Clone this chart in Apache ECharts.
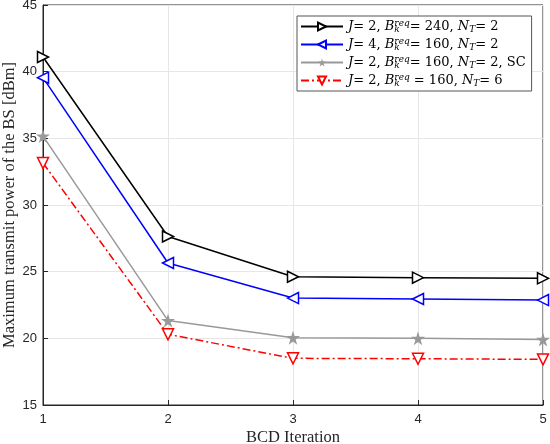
<!DOCTYPE html>
<html>
<head>
<meta charset="utf-8">
<script src="https://cdn.jsdelivr.net/npm/echarts@6/dist/echarts.min.js"></script>
<style>html,body{margin:0;padding:0;background:#fff}#c{width:550px;height:444px}</style>
</head>
<body>
<div id="c"></div>
<script>
var iterations = [1, 2, 3, 4, 5];
var s1 = [41.1, 27.64, 24.62, 24.55, 24.5];
var s2 = [39.55, 25.65, 23.02, 22.95, 22.87];
var s3 = [35.17, 21.33, 20.05, 20.0, 19.92];
var s4 = [33.15, 20.3, 18.5, 18.47, 18.42];
var seriesNames = ['s1', 's2', 's3', 's4'];
var legendLabels = {
  s1: '{i|J}{r|= 2, }{i|B}{sub|k}{sup|req}{r|= 240, }{i|N}{sub2|T}{r|= 2}',
  s2: '{i|J}{r|= 4, }{i|B}{sub|k}{sup|req}{r|= 160, }{i|N}{sub2|T}{r|= 2}',
  s3: '{i|J}{r|= 2, }{i|B}{sub|k}{sup|req}{r|= 160, }{i|N}{sub2|T}{r|= 2, SC}',
  s4: '{i|J}{r|= 2, }{i|B}{sub|k}{sup|req}{r| = 160, }{i|N}{sub2|T}{r|= 6}'
};
var xTicks = [1, 2, 3, 4, 5];
var yTicks = [15, 20, 25, 30, 35, 40, 45];

var star = 'path://M50,0 L61,35 L98,35 L68,57 L79,91 L50,70 L21,91 L32,57 L2,35 L39,35 Z';
function pts(arr) { return iterations.map(function (x, i) { return [x, arr[i]]; }); }

var serif = 'DejaVu Serif';
var nameFont = 'Liberation Serif';
var chart = echarts.init(document.getElementById('c'));
chart.setOption({
  animation: false,
  backgroundColor: '#fff',
  grid: { left: 43, right: 7, top: 5, bottom: 39, show: true, borderColor: '#262626', borderWidth: 1, containLabel: false, outerBoundsMode: 'none' },
  xAxis: {
    type: 'value', min: xTicks[0], max: xTicks[xTicks.length - 1], interval: 1,
    name: 'BCD Iteration', nameLocation: 'middle', nameGap: 24, nameMoveOverlap: false,
    nameTextStyle: { fontFamily: nameFont, fontSize: 16.5, color: '#262626' },
    axisLine: { lineStyle: { color: '#262626' } },
    axisTick: { inside: true, length: 5, lineStyle: { color: '#262626' } },
    axisLabel: { fontFamily: 'Liberation Sans', fontSize: 13, color: '#262626', margin: 8 },
    splitLine: { show: true, lineStyle: { color: '#e6e6e6' } }
  },
  yAxis: {
    type: 'value', min: yTicks[0], max: yTicks[yTicks.length - 1], interval: 5,
    name: 'Maximum transmit power of the BS [dBm]', nameLocation: 'middle', nameGap: 25, nameMoveOverlap: false,
    nameTextStyle: { fontFamily: nameFont, fontSize: 16.5, color: '#262626' },
    axisLine: { lineStyle: { color: '#262626' } },
    axisTick: { inside: true, length: 5, lineStyle: { color: '#262626' } },
    axisLabel: { fontFamily: 'Liberation Sans', fontSize: 13, color: '#262626', margin: 6 },
    splitLine: { show: true, lineStyle: { color: '#e6e6e6' } }
  },
  legend: {
    orient: 'vertical', left: 297, top: 16,
    backgroundColor: '#fff', borderColor: '#555', borderWidth: 1,
    padding: [3, 6, 3, 3], itemGap: 3, itemWidth: 42, itemHeight: 10,
    data: seriesNames,
    formatter: function (n) { return legendLabels[n]; },
    textStyle: {
      color: '#000',
      rich: {
        i: { fontFamily: serif, fontStyle: 'italic', fontSize: 13, color: '#000' },
        r: { fontFamily: serif, fontSize: 13, color: '#000' },
        sub: { fontFamily: serif, fontStyle: 'italic', fontSize: 9, color: '#000', padding: [6, 0, 0, 0], verticalAlign: 'bottom', width: 0 },
        sup: { fontFamily: serif, fontStyle: 'italic', fontSize: 9, color: '#000', padding: [0, 0, 6, 0], verticalAlign: 'top' },
        sub2: { fontFamily: serif, fontStyle: 'italic', fontSize: 9, color: '#000', padding: [5, 0, 0, 0], verticalAlign: 'bottom' }
      }
    }
  },
  series: [
    { name: 's1', type: 'line', data: pts(s1), symbol: 'triangle', symbolRotate: -90, symbolSize: 11,
      lineStyle: { color: '#000', width: 1.5 }, itemStyle: { color: '#fff', borderColor: '#000', borderWidth: 1.5 } },
    { name: 's2', type: 'line', data: pts(s2), symbol: 'triangle', symbolRotate: 90, symbolSize: 11,
      lineStyle: { color: '#0000ff', width: 1.5 }, itemStyle: { color: '#fff', borderColor: '#0000ff', borderWidth: 1.5 } },
    { name: 's3', type: 'line', data: pts(s3), symbol: star, symbolSize: 14,
      lineStyle: { color: '#999999', width: 1.5 }, itemStyle: { color: '#999999', borderColor: '#999999', borderWidth: 0 } },
    { name: 's4', type: 'line', data: pts(s4), symbol: 'triangle', symbolRotate: 180, symbolSize: 11,
      lineStyle: { color: '#ff0000', width: 1.5, type: [8, 3, 2, 3] }, itemStyle: { color: '#fff', borderColor: '#ff0000', borderWidth: 1.5 } }
  ]
});
</script>
</body>
</html>
